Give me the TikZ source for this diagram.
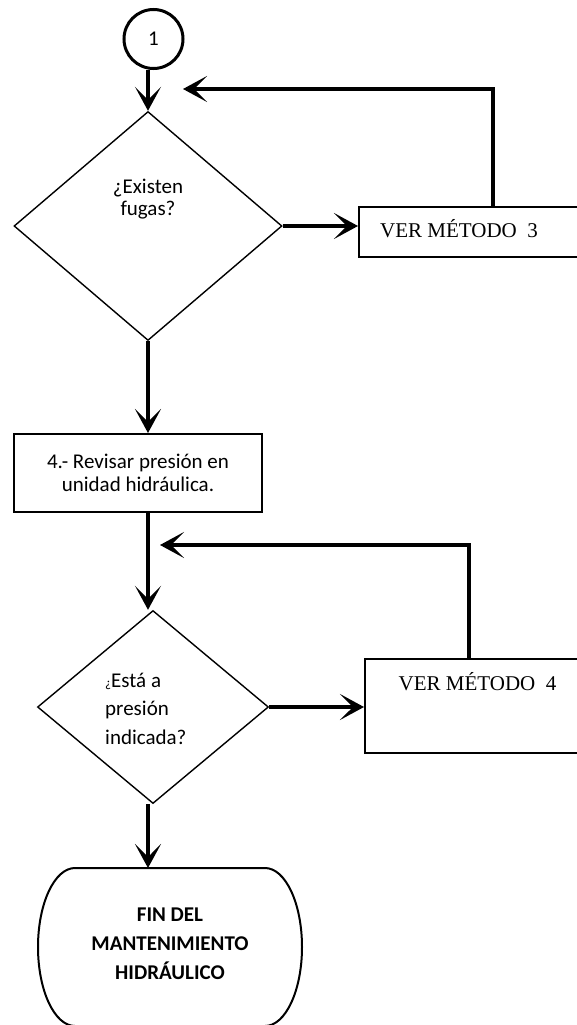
\documentclass[tikz,border=0pt]{standalone}
\usepackage{fontspec}
\setmainfont{Carlito}
\newfontfamily\tnr{Liberation Serif}
\usetikzlibrary{shapes.geometric,arrows.meta}
\begin{document}
\begin{tikzpicture}[x=1pt,y=-1pt,
  conn/.style={line width=3.5pt, -{Stealth[length=24pt,width=26pt,inset=13pt]}},
  boxs/.style={draw, line width=2pt, inner sep=0pt},
  dia/.style={draw, diamond, line width=1.4pt, inner sep=0pt},
  txt/.style={font=\fontsize{21}{22.5}\selectfont, align=center, inner sep=0pt},
  serif/.style={font=\tnr\fontsize{21}{24}\selectfont, inner sep=0pt},
]
\clip (0,0) rectangle (577,1025);
\fill[white] (0,0) rectangle (577,1025);

% start connector
\node[draw, circle, line width=3pt, minimum size=59pt, inner sep=0pt, font=\fontsize{21}{22.5}\selectfont] (c1) at (153.5,39) {1};

% decision 1
\node[dia, minimum width=268pt, minimum height=229pt] (d1) at (148,226) {};
\node[txt] (t1) at (148,199) {¿Existen\\fugas?};

% method 3 box
\node[boxs, minimum width=231pt, minimum height=50pt] (b3) at (474.5,232) {};
\node[serif, anchor=base west] (t3) at (380,237) {VER MÉTODO~~3};

% process box 4
\node[boxs, minimum width=248pt, minimum height=78pt, txt] (b4) at (138,473) {4.- Revisar presión en\\unidad hidráulica.};

% decision 2
\node[dia, minimum width=231pt, minimum height=193pt] (d2) at (153,707) {};
\node[font=\fontsize{21}{28.5}\selectfont, align=left, inner sep=0pt, anchor=west] (t2) at (105,708.5)
  {{\fontsize{13}{13}\selectfont ¿}Está a\\presión\\indicada?};

% method 4 box
\node[boxs, minimum width=225pt, minimum height=94pt] (b5) at (477.5,706) {};
\node[serif] (t5) at (477.5,682) {VER MÉTODO~~4};

% terminal
\draw[line width=2pt] (75,868) -- (265,868)
  arc[start angle=-90, end angle=90, x radius=37, y radius=79]
  -- (75,1026)
  arc[start angle=90, end angle=270, x radius=37, y radius=79] -- cycle;
\coordinate (ft) at (148,868);
\node[txt, font=\fontsize{21}{29}\selectfont\bfseries] (fin) at (170,944) {FIN DEL\\MANTENIMIENTO\\HIDRÁULICO};

% feedback coordinates
\coordinate (f1) at (493,89);
\coordinate (f1e) at (183,89);
\coordinate (f2) at (469,545);
\coordinate (f2e) at (160,545);

% connectors
\draw[conn] (c1.south -| d1.north) -- (d1.north);
\draw[conn] (d1.east) -- (d1.east -| b3.west);
\draw[conn] (b3.north -| f1) |- (f1e);
\draw[conn] (d1.south) -- (d1.south |- b4.north);
\draw[conn] (d1.south |- b4.south) -- (d1.south |- d2.north);
\draw[conn] (d2.east) -- (d2.east -| b5.west);
\draw[conn] (b5.north -| f2) |- (f2e);
\draw[conn] (d1.south |- d2.south) -- (ft);
\end{tikzpicture}
\end{document}
